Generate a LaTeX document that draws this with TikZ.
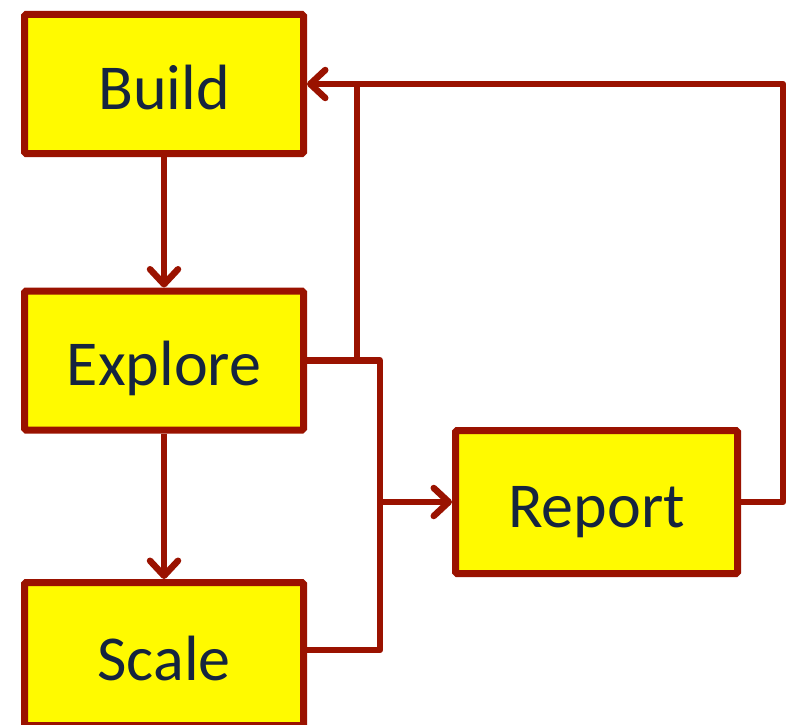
\documentclass[tikz,border=0pt]{standalone}
\usepackage{fontspec}
\setmainfont{Carlito}
\usetikzlibrary{arrows.meta,shadows}
\definecolor{edge}{HTML}{9A1200}
\definecolor{boxfill}{HTML}{FFFA00}
\definecolor{ink}{HTML}{15243F}
% label set with its baseline a fixed distance below the box centre
\newcommand{\stagetext}[1]{\smash{\raisebox{-25pt}{#1}}}
\tikzset{
  stage/.style={draw=edge, fill=boxfill, line width=7pt, rounded corners=1.5pt,
    minimum width=279pt, minimum height=139pt, inner sep=0pt,
    text=ink, font=\fontsize{64}{70}\selectfont,
    drop shadow={shadow xshift=2.5pt, shadow yshift=-2.5pt, opacity=0.25, fill=black!60}},
  link/.style={draw=edge, line width=6.5pt, line join=round},
  flow/.style={link, -{Straight Barb[round, length=15pt, width=28pt, line width=6.5pt]}}
}
\begin{document}
\begin{tikzpicture}[x=1pt, y=-1pt]
  \useasboundingbox (0,0) rectangle (787,725);
  % the four stages
  \node[stage] (build)   at (164,84)    {\stagetext{Build}};
  \node[stage] (explore) at (164,360.5) {\stagetext{Explore}};
  \node[stage, minimum height=143pt] (scale) at (164,654) {\raisebox{-2pt}{\stagetext{Scale}}};
  \node[stage, minimum width=282pt, minimum height=143pt] (report) at (596.5,502) {\stagetext{Report}};
  % routing points
  \coordinate (loopR) at (783,84);
  \coordinate (loopL) at (357,84);
  \coordinate (merge) at (380,502);
  % downward flow
  \draw[flow] (build.south) -- (explore.north);
  \draw[flow] (explore.south) -- (scale.north);
  % explore and scale merge into report
  \draw[link] (explore.east) -| (merge);
  \draw[link] (scale.east |- 0,650) -| (merge);
  \draw[flow] (merge) -- (report.west);
  % feedback loops back to build
  \draw[link] (explore.east) -| (loopL);
  \draw[flow] (report.east) -| (loopR) -- (build.east);
\end{tikzpicture}
\end{document}
